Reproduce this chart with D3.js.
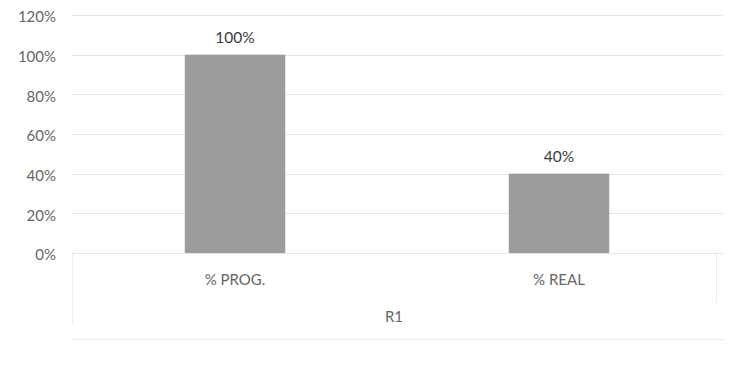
<!DOCTYPE html>
<html>
<head>
<meta charset="utf-8">
<script src="https://cdn.jsdelivr.net/npm/d3@7"></script>
<style>
  html, body { margin: 0; padding: 0; background: #fff; }
  svg { display: block; font-family: Lato, "Liberation Sans", sans-serif; }
</style>
</head>
<body>
<svg id="chart" width="729" height="365"></svg>
<script>
// Progress per category (fraction of 1)
const categories = ["% PROG.", "% REAL"];
const values = [1.0, 0.4];
const groupLabel = "R1";
const yTicks = [0, 0.2, 0.4, 0.6, 0.8, 1.0, 1.2];

const svg = d3.select("#chart");
const margin = { left: 73, right: 8, top: 15, bottom: 112 };
const W = 729, H = 365;
const plotBottom = H - margin.bottom;

const x = d3.scaleBand()
  .domain(categories)
  .range([margin.left, W - margin.right])
  .paddingInner(0.69)
  .paddingOuter(0.345);

const y = d3.scaleLinear()
  .domain([0, 1.2])
  .range([plotBottom, margin.top]);

const fmt = d3.format(".0%");
const textColor = "#666666";
const fontFamily = "Lato, 'Liberation Sans', sans-serif";

// Horizontal gridlines
svg.append("g")
  .selectAll("line")
  .data(yTicks)
  .join("line")
  .attr("x1", margin.left - 1)
  .attr("x2", W - margin.right + 2)
  .attr("y1", d => Math.round(y(d)) + 0.5)
  .attr("y2", d => Math.round(y(d)) + 0.5)
  .attr("stroke", "#e6e6e6")
  .attr("stroke-width", 1);

// Y axis labels
const yAxis = d3.axisLeft(y).tickValues(yTicks).tickFormat(fmt).tickSize(0).tickPadding(0);
const yg = svg.append("g")
  .attr("transform", `translate(${margin.left - 17},2)`)
  .call(yAxis);
yg.select(".domain").remove();
yg.selectAll("text")
  .attr("fill", textColor)
  .attr("font-size", 15)
  .attr("font-family", fontFamily);

// Bars
svg.append("g")
  .selectAll("rect")
  .data(categories)
  .join("rect")
  .attr("x", d => x(d))
  .attr("width", x.bandwidth())
  .attr("y", (d, i) => y(values[i]))
  .attr("height", (d, i) => plotBottom - y(values[i]))
  .attr("fill", "#9c9c9c");

// Value labels above bars
svg.append("g")
  .selectAll("text")
  .data(categories)
  .join("text")
  .attr("x", d => x(d) + x.bandwidth() / 2)
  .attr("y", (d, i) => y(values[i]) - 12)
  .attr("text-anchor", "middle")
  .attr("fill", "#3c3c3c")
  .attr("font-size", 15.5)
  .attr("font-family", fontFamily)
  .text((d, i) => fmt(values[i]));

// Multi-level category axis
const xAxis = d3.axisBottom(x).tickSize(0).tickPadding(0);
const xg = svg.append("g")
  .attr("transform", `translate(0,${plotBottom + 32})`)
  .call(xAxis);
xg.select(".domain").remove();
xg.selectAll("text")
  .attr("dy", 0)
  .attr("fill", textColor)
  .attr("font-size", 15)
  .attr("font-family", fontFamily);

const left = margin.left - 1, right = W - margin.right - 5;
const frame = svg.append("g").attr("stroke", "#ebebeb").attr("stroke-width", 1).attr("fill", "none");
frame.append("line").attr("x1", left + 0.5).attr("x2", left + 0.5).attr("y1", plotBottom).attr("y2", plotBottom + 72);
frame.append("line").attr("x1", right + 0.5).attr("x2", right + 0.5).attr("y1", plotBottom).attr("y2", plotBottom + 50);
frame.append("line").attr("x1", left).attr("x2", W - 5).attr("y1", plotBottom + 86.5).attr("y2", plotBottom + 86.5);

svg.append("text")
  .attr("x", (left + right) / 2)
  .attr("y", plotBottom + 69)
  .attr("text-anchor", "middle")
  .attr("fill", textColor)
  .attr("font-size", 15)
  .attr("font-family", fontFamily)
  .text(groupLabel);
</script>
</body>
</html>
